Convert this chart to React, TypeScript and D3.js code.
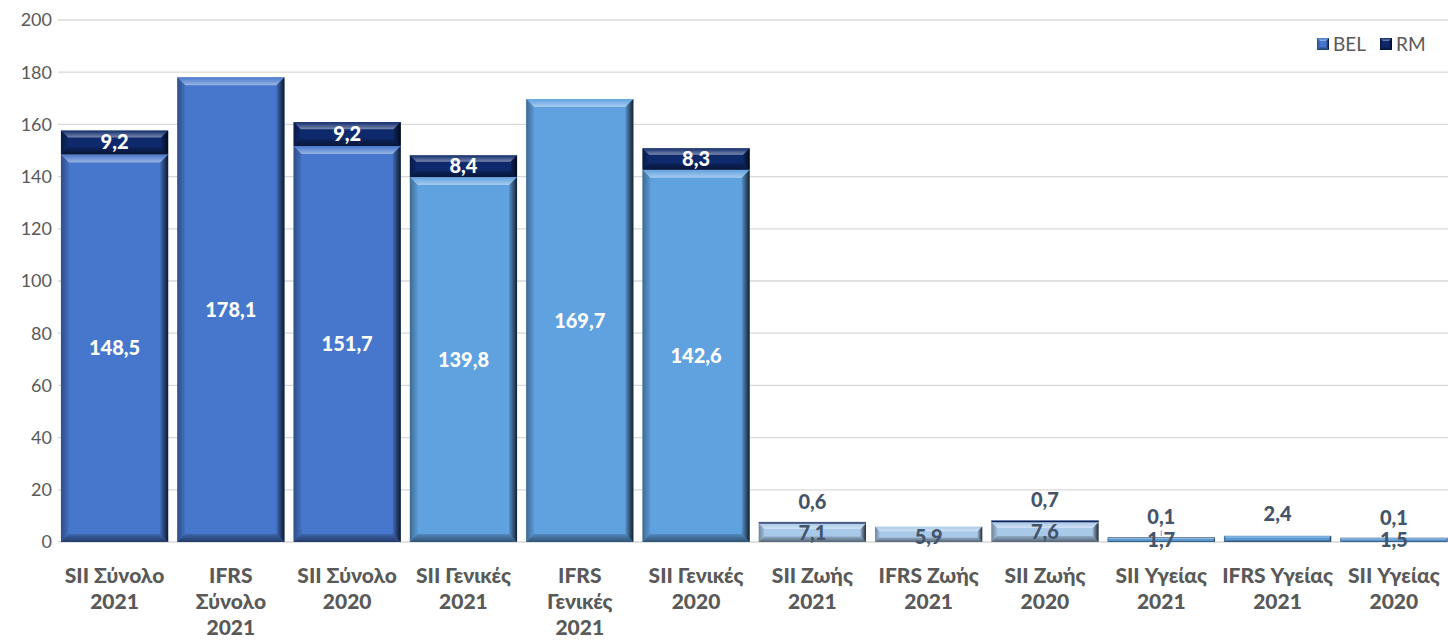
import React from "react";
import * as d3 from "d3";

const categories: string[][] = [
  ["SII Σύνολο", "2021"],
  ["IFRS", "Σύνολο", "2021"],
  ["SII Σύνολο", "2020"],
  ["SII Γενικές", "2021"],
  ["IFRS", "Γενικές", "2021"],
  ["SII Γενικές", "2020"],
  ["SII Ζωής", "2021"],
  ["IFRS Ζωής", "2021"],
  ["SII Ζωής", "2020"],
  ["SII Υγείας", "2021"],
  ["IFRS Υγείας", "2021"],
  ["SII Υγείας", "2020"],
];
const belValues: number[] = [148.5, 178.1, 151.7, 139.8, 169.7, 142.6, 7.1, 5.9, 7.6, 1.7, 2.4, 1.5];
const rmValues: (number | null)[] = [9.2, null, 9.2, 8.4, null, 8.3, 0.6, null, 0.7, 0.1, null, 0.1];
const groupOf: number[] = [0, 0, 0, 1, 1, 1, 2, 2, 2, 3, 3, 3];
const groupColors: string[] = ["#4677cc", "#60a2e0", "#a9c9e9", "#5b9bd5"];
const rmColor = "#0e2a6c";
const yTicks: number[] = [0, 20, 40, 60, 80, 100, 120, 140, 160, 180, 200];
const legendItems = [
  { name: "BEL", color: "#4677cc" },
  { name: "RM", color: rmColor },
];

const W = 1448;
const H = 640;
const FONT = "Lato, 'Noto Sans', sans-serif";
const fmt = (v: number) => v.toFixed(1).replace(".", ",");

function Bevel({ x, y, w, h, color, maxB = 8 }: { x: number; y: number; w: number; h: number; color: string; maxB?: number }) {
  const b = Math.max(0.5, Math.min(maxB, h * 0.3, w / 2));
  const top = `${x},${y} ${x + w},${y} ${x + w - b},${y + b} ${x + b},${y + b}`;
  const bottom = `${x},${y + h} ${x + w},${y + h} ${x + w - b},${y + h - b} ${x + b},${y + h - b}`;
  const left = `${x},${y} ${x + b},${y + b} ${x + b},${y + h - b} ${x},${y + h}`;
  const right = `${x + w},${y} ${x + w - b},${y + b} ${x + w - b},${y + h - b} ${x + w},${y + h}`;
  return (
    <g>
      <rect x={x} y={y} width={w} height={h} fill={color} />
      <polygon points={top} fill="url(#gTop)" />
      <polygon points={bottom} fill="url(#gBottom)" />
      <polygon points={left} fill="url(#gLeft)" />
      <polygon points={right} fill="url(#gRight)" />
    </g>
  );
}

export default function App() {
  const y = d3.scaleLinear().domain([0, 200]).range([542, 20]);
  const x = d3
    .scaleBand<number>()
    .domain(categories.map((_, i) => i))
    .range([56.4, 1452])
    .paddingInner(0.078)
    .paddingOuter(0.039);
  const bw = x.bandwidth();
  const LBL = 20;
  const legendX = [1317, 1380];

  return (
    <div style={{ position: "fixed", left: 0, top: 0 }}>
      <svg width={W} height={H} style={{ display: "block" }}>
        <defs>
          <linearGradient id="gTop" x1="0" y1="0" x2="0" y2="1">
            <stop offset="0" stopColor="#ffffff" stopOpacity="0.0" />
            <stop offset="1" stopColor="#ffffff" stopOpacity="0.45" />
          </linearGradient>
          <linearGradient id="gBottom" x1="0" y1="0" x2="0" y2="1">
            <stop offset="0" stopColor="#000000" stopOpacity="0.15" />
            <stop offset="1" stopColor="#000000" stopOpacity="0.5" />
          </linearGradient>
          <linearGradient id="gLeft" x1="0" y1="0" x2="1" y2="0">
            <stop offset="0" stopColor="#000000" stopOpacity="0.35" />
            <stop offset="1" stopColor="#000000" stopOpacity="0.05" />
          </linearGradient>
          <linearGradient id="gRight" x1="0" y1="0" x2="1" y2="0">
            <stop offset="0" stopColor="#000000" stopOpacity="0.1" />
            <stop offset="1" stopColor="#000000" stopOpacity="0.8" />
          </linearGradient>
        </defs>
        <rect width={W} height={H} fill="#ffffff" />
        {yTicks.map((t) => (
          <g key={t}>
            <line x1={58} x2={W} y1={y(t)} y2={y(t)} stroke="#d9d9d9" strokeWidth={1.3} />
            <text x={52} y={y(t)} dy="0.35em" textAnchor="end" fontFamily={FONT} fontSize={18} fill="#595959">
              {t}
            </text>
          </g>
        ))}
        {belValues.map((v, i) => {
          const x0 = x(i)!;
          const color = groupColors[groupOf[i]];
          const rm = rmValues[i];
          const yTop = y(v);
          const h = y(0) - yTop;
          const big = v > 50;
          const els: React.ReactNode[] = [];
          els.push(<Bevel key="b" x={x0} y={yTop} w={bw} h={h} color={color} />);
          if (rm !== null) {
            const rt = y(v + rm);
            els.push(<Bevel key="r" x={x0} y={rt} w={bw} h={yTop - rt} color={rmColor} />);
          }
          const cx = x0 + bw / 2;
          if (big) {
            els.push(
              <text key="bl" x={cx} y={(yTop + y(0)) / 2} dy="0.35em" textAnchor="middle" fontFamily={FONT} fontWeight={900} fontSize={LBL} fill="#ffffff">
                {fmt(v)}
              </text>
            );
            if (rm !== null) {
              const rt = y(v + rm);
              els.push(
                <text key="rl" x={cx} y={(rt + yTop) / 2} dy="0.35em" textAnchor="middle" fontFamily={FONT} fontWeight={900} fontSize={LBL} fill="#ffffff">
                  {fmt(rm)}
                </text>
              );
            }
          } else {
            const stackTop = y(v + (rm ?? 0));
            if (rm !== null) {
              els.push(
                <text key="bl" x={cx} y={(yTop + y(0)) / 2} dy="0.35em" textAnchor="middle" fontFamily={FONT} fontWeight={900} fontSize={LBL} fill="#44546a">
                  {fmt(v)}
                </text>
              );
              const ly = stackTop - 20;
              els.push(
                <text key="rl" x={cx} y={ly} dy="0.35em" textAnchor="middle" fontFamily={FONT} fontWeight={900} fontSize={LBL} fill="#44546a">
                  {fmt(rm)}
                </text>
              );
              if (i === 9) {
                els.push(<line key="ll" x1={cx} x2={cx} y1={ly + 13} y2={y(0) - 6} stroke="#a6a6a6" strokeWidth={1.2} />);
              }
            } else if (h > 12) {
              els.push(
                <text key="bl" x={cx} y={(yTop + y(0)) / 2 + 3} dy="0.35em" textAnchor="middle" fontFamily={FONT} fontWeight={900} fontSize={LBL} fill="#44546a">
                  {fmt(v)}
                </text>
              );
            } else {
              els.push(
                <text key="bl" x={cx} y={yTop - 22} dy="0.35em" textAnchor="middle" fontFamily={FONT} fontWeight={900} fontSize={LBL} fill="#44546a">
                  {fmt(v)}
                </text>
              );
            }
          }
          return <g key={i}>{els}</g>;
        })}
        {categories.map((lines, i) => (
          <text key={i} textAnchor="middle" fontFamily={FONT} fontWeight={900} fontSize={21} fill="#595959">
            {lines.map((ln, j) => (
              <tspan key={j} x={x(i)! + bw / 2} y={576 + j * 26} dy="0.35em">
                {ln}
              </tspan>
            ))}
          </text>
        ))}
        {legendItems.map((it, k) => {
          const lx = legendX[k];
          return (
            <g key={it.name}>
              <Bevel x={lx} y={38} w={12} h={12} color={it.color} maxB={3} />
              <text x={lx + 16} y={44} dy="0.35em" fontFamily={FONT} fontSize={19} fill="#595959">
                {it.name}
              </text>
            </g>
          );
        })}
      </svg>
    </div>
  );
}
